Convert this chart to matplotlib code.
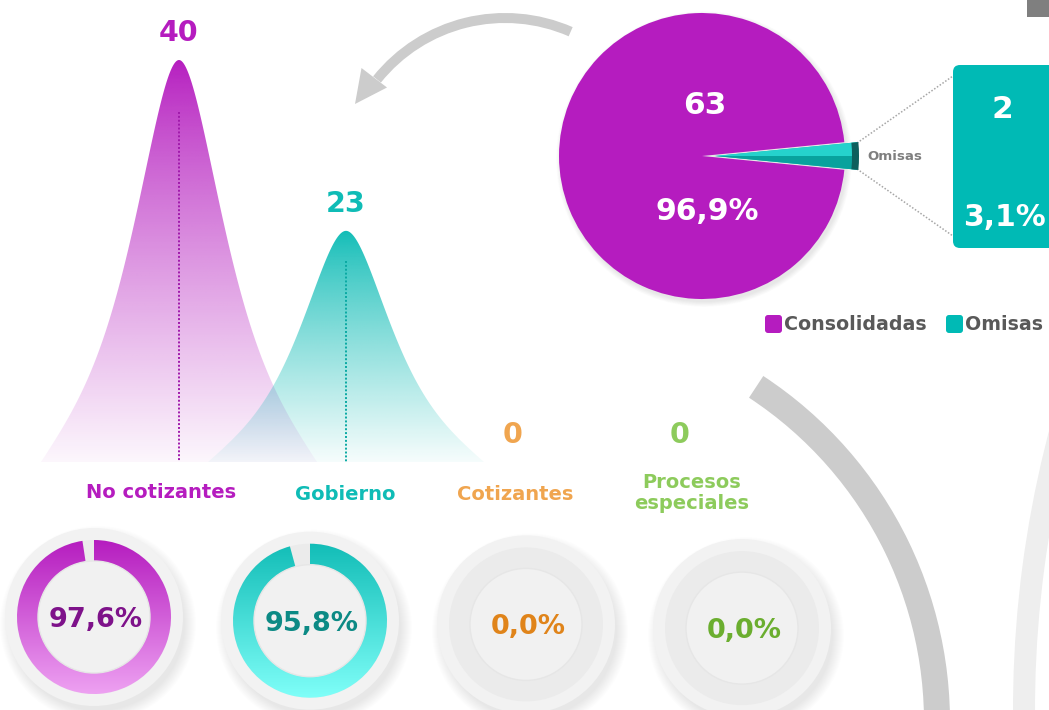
import numpy as np
import matplotlib.pyplot as plt
from matplotlib.patches import Polygon, Wedge, Circle, FancyBboxPatch, Rectangle
from matplotlib.colors import to_rgb

# datos
categories = ['No cotizantes', 'Gobierno', 'Cotizantes', 'Procesos\nespeciales']
counts = [40, 23, 0, 0]
pct_ok = [97.6, 95.8, 0.0, 0.0]
pie_labels = ['Consolidadas', 'Omisas']
pie_counts = [63, 2]

# colores
purple = '#B51CBF'
teal = '#00BAB5'
peak_colors = ['#B51CBF', '#0FBCB6', '#F0A54F', '#8DCB5C']
dot_colors = ['#A01AAB', '#0AA9A3', '#F0A54F', '#8DCB5C']
ring_top = ['#B51CBF', '#12BDB7', '#EBEBEB', '#EBEBEB']
ring_bot = ['#EEA2F2', '#80FFF9', '#EBEBEB', '#EBEBEB']
pct_colors = ['#7E128A', '#0C8A85', '#E0841A', '#6BAE2F']
arc_grey = '#CCCCCC'

W, H = 1049, 710
fig = plt.figure(figsize=(W / 100, H / 100), dpi=100)
ax = fig.add_axes([0, 0, 1, 1])
plt.rcParams['font.family'] = ['DejaVu Sans']


def fmt(v):
    return f'{v:.1f}'.replace('.', ',') + '%'


def vgrad(top, bot, n=256, a_top=1.0, a_bot=1.0, gamma=1.0):
    t = np.linspace(0, 1, n) ** gamma
    c0, c1 = np.array(to_rgb(top)), np.array(to_rgb(bot))
    rgb = c0[None, :] * (1 - t[:, None]) + c1[None, :] * t[:, None]
    a = a_top * (1 - t) + a_bot * t
    return np.concatenate([rgb, a[:, None]], axis=1)[:, None, :]


# decoracion de fondo: arcos grises y flecha
ax.add_patch(Wedge((536, 722), 414, -56.7, 5, width=26, fc=arc_grey, lw=0, zorder=0))
ax.add_patch(Wedge((2113, 710), 1100, 175, 200, width=22, fc='#EEEEEE', lw=0, zorder=0))
ax.add_patch(Wedge((505, 182), 169, -141.3, -66.4, width=10, fc=arc_grey, lw=0, zorder=0))
ax.add_patch(Polygon([(355, 104), (361.5, 68), (387, 87.5)], closed=True, fc=arc_grey, lw=0, zorder=0))
ax.add_patch(Rectangle((1027, 0), 22, 17, fc='#7F7F7F', lw=0))

# campanas
base_y = 462
px_unit = 402 / 40
half_w = 138
x0, step = 179, 167
u = np.linspace(-1, 1, 401)
au = np.abs(u)
shape = np.exp(-(au / 0.35) ** 2 / (1 + 2.0 * au)) * (1 - au ** 8)

for i, (cat, val) in enumerate(zip(categories, counts)):
    cx = x0 + step * i
    h = val * px_unit
    if val > 0:
        xs = cx + u * half_w
        ys = base_y - h * shape
        poly = Polygon(np.column_stack([xs, ys]), closed=True, fc='none', ec='none')
        ax.add_patch(poly)
        img = vgrad(peak_colors[i], peak_colors[i], a_top=1.0, a_bot=0.04, gamma=0.83)
        im = ax.imshow(img, extent=[cx - half_w, cx + half_w, base_y, base_y - h],
                       aspect='auto', interpolation='bilinear', zorder=2 + i)
        im.set_clip_path(poly)
        ax.plot([cx, cx], [base_y - 0.87 * h, base_y], ls=(0, (1, 1)), lw=1.4,
                color=dot_colors[i], zorder=6)
    ax.text(cx, base_y - h - 27, str(val), ha='center', va='center', fontsize=20.5,
            fontweight='bold', color=peak_colors[i], zorder=7)

label_x = [161, 345, 515, 692]
label_y = [493, 495, 495, 493]
for i, cat in enumerate(categories):
    ax.text(label_x[i], label_y[i], cat, ha='center', va='center', fontsize=14,
            fontweight='bold', color=peak_colors[i], linespacing=1.15, zorder=7)

# donas
for i, p in enumerate(pct_ok):
    cx = 94 + 216 * i
    cy = 617 + 3.7 * i
    for k in range(12):
        ax.add_patch(Circle((cx + 4, cy + 7), 87 + k * 1.0, fc='k', alpha=0.008, lw=0, zorder=1))
    ax.add_patch(Circle((cx, cy), 89, fc='#F2F2F2', lw=0, zorder=2))
    ax.add_patch(Wedge((cx, cy), 77, 0, 360, width=21, fc='#EBEBEB', lw=0, zorder=3))
    if p > 0:
        ring = Wedge((cx, cy), 77, -90, -90 + 3.6 * p, width=21, fc='none', lw=0)
        ax.add_patch(ring)
        im = ax.imshow(vgrad(ring_top[i], ring_bot[i]), extent=[cx - 78, cx + 78, cy + 78, cy - 78],
                       aspect='auto', interpolation='bilinear', zorder=4)
        im.set_clip_path(ring)
    ax.add_patch(Circle((cx, cy), 56, fc='#F1F1F1', ec='#E6E6E6', lw=1, zorder=5))
    ax.text(cx + 2, cy + 3, fmt(p), ha='center', va='center', fontsize=19.5,
            fontweight='bold', color=pct_colors[i], zorder=6)

# torta
pc = (702, 156)
pr = 143
frac = pie_counts[1] / sum(pie_counts)
half_ang = 180 * frac
for k in range(8):
    ax.add_patch(Circle((pc[0] + 2, pc[1] + 3), pr + k * 0.7, fc='k', alpha=0.01, lw=0, zorder=1))
ax.pie(pie_counts, colors=[purple, teal], startangle=half_ang, center=pc, radius=pr,
       explode=[0, 13], wedgeprops=dict(linewidth=0, zorder=2))
tip = (pc[0] + 13, pc[1])
ax.add_patch(Wedge(tip, pr, -half_ang, 0, fc='#25D2CC', lw=0, zorder=3))
ax.add_patch(Wedge(tip, pr, 0, half_ang, fc='#08A29D', lw=0, zorder=3))
ax.add_patch(Wedge(tip, pr + 1, -half_ang, half_ang, width=7, fc='#0D5F5D', lw=0, zorder=4))

ax.text(705, 106, str(pie_counts[0]), ha='center', va='center', fontsize=22.5,
        fontweight='bold', color='white', zorder=6)
ax.text(707, 211, fmt(100 * pie_counts[0] / sum(pie_counts)), ha='center', va='center',
        fontsize=21.5, fontweight='bold', color='white', zorder=6)
ax.text(867, 157, pie_labels[1], ha='left', va='center', fontsize=9.6,
        fontweight='bold', color='#7F7F7F', zorder=6)

# caja de omisas
ax.plot([857, 953], [143, 76], ls=(0, (1, 1.2)), lw=1.1, color='#A6A6A6', zorder=2)
ax.plot([857, 953], [169, 236], ls=(0, (1, 1.2)), lw=1.1, color='#A6A6A6', zorder=2)
ax.add_patch(FancyBboxPatch((953, 65), 130, 183, boxstyle='round,pad=0,rounding_size=7',
                            fc=teal, lw=0, zorder=3))
ax.text(1002, 110, str(pie_counts[1]), ha='center', va='center', fontsize=22.5,
        fontweight='bold', color='white', zorder=6)
ax.text(1004, 218, fmt(100 * frac), ha='center', va='center', fontsize=21.5,
        fontweight='bold', color='white', zorder=6)

# leyenda
leg_x = [765, 946]
for lx, lab, col in zip(leg_x, pie_labels, [purple, teal]):
    ax.add_patch(FancyBboxPatch((lx, 315), 17, 18, boxstyle='round,pad=0,rounding_size=3',
                                fc=col, lw=0, zorder=3))
    ax.text(lx + 19, 324, lab, ha='left', va='center', fontsize=13.7,
            fontweight='bold', color='#595959', zorder=6)

ax.set_xlim(0, W)
ax.set_ylim(H, 0)
ax.set_aspect('auto')
ax.axis('off')
fig.savefig('out.png', dpi=100, facecolor='white')
